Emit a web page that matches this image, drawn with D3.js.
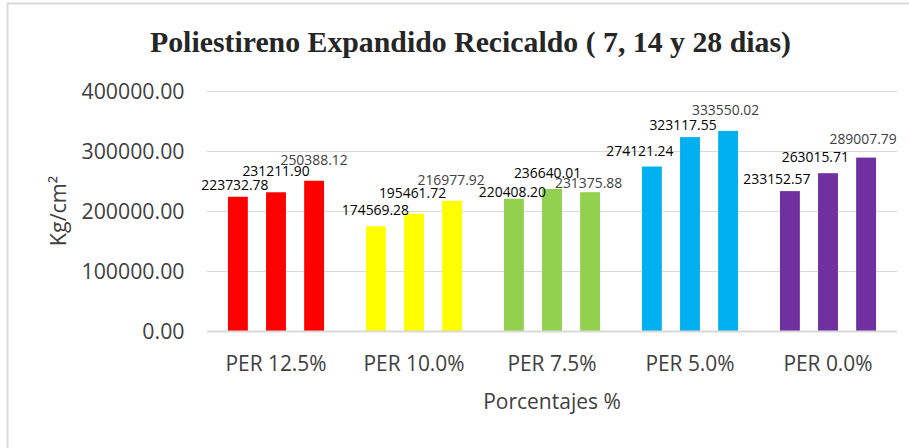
<!DOCTYPE html>
<html>
<head>
<meta charset="utf-8">
<script src="https://cdn.jsdelivr.net/npm/d3@7"></script>
<style>
  html, body { margin: 0; padding: 0; background: #fff; }
  svg { display: block; }
</style>
</head>
<body>
<div id="chart"></div>
<script>
// Compressive strength (Kg/cm²) of recycled expanded polystyrene mixes at 7, 14 and 28 days
const categories = ["PER 12.5%", "PER 10.0%", "PER 7.5%", "PER 5.0%", "PER 0.0%"];
const ages = ["7 dias", "14 dias", "28 dias"];
const values = [
  [223732.78, 231211.90, 250388.12],
  [174569.28, 195461.72, 216977.92],
  [220408.20, 236640.01, 231375.88],
  [274121.24, 323117.55, 333550.02],
  [233152.57, 263015.71, 289007.79]
];
const yTicks = [0, 100000, 200000, 300000, 400000];
const groupColors = ["#FF0000", "#FFFF00", "#92D050", "#00B0F0", "#7030A0"];

// Hand-placed data label nudges (px) relative to each bar's top centre
const labelDx = [
  [-3, 0, 0],
  [-0.5, -1.5, -1],
  [-1.5, -4.5, -1.5],
  [-12, -7, -2.5],
  [-13, -12.7, -3]
];
const labelDy = [
  [-6.8, -16, -16],
  [-11, -16, -16],
  [-2, -11.3, -4],
  [-11, -7, -15.4],
  [-7, -11.5, -14]
];

const W = 909, H = 448;
const plot = { left: 207, right: 897, top: 91, bottom: 331 };

const svg = d3.select("#chart").append("svg")
  .attr("width", W).attr("height", H);

svg.append("rect").attr("x", 0).attr("y", 0).attr("width", W).attr("height", H).attr("fill", "#fff");

// chart frame
svg.append("rect")
  .attr("x", 7.5).attr("y", 3.5)
  .attr("width", W + 10).attr("height", H + 10)
  .attr("fill", "none").attr("stroke", "#d9d9d9").attr("stroke-width", 2);

const x0 = d3.scaleBand().domain(categories).range([plot.left, plot.right]).padding(0);
const x1 = d3.scaleBand().domain(d3.range(ages.length))
  .range([0, x0.bandwidth()]).paddingInner(0.478).paddingOuter(0.55);
const y = d3.scaleLinear().domain([0, 400000]).range([plot.bottom, plot.top]);

// gridlines
svg.append("g").selectAll("line").data(yTicks.filter(d => d > 0)).join("line")
  .attr("x1", plot.left).attr("x2", plot.right)
  .attr("y1", d => Math.round(y(d)) + 0.5).attr("y2", d => Math.round(y(d)) + 0.5)
  .attr("stroke", "#d9d9d9").attr("stroke-width", 1.2);

// y axis labels
const yAxis = d3.axisLeft(y).tickValues(yTicks).tickFormat(d3.format(".2f")).tickSize(0).tickPadding(22.5);
const gy = svg.append("g").attr("transform", `translate(${plot.left},0)`).call(yAxis);
gy.select(".domain").remove();
gy.selectAll("text")
  .attr("font-family", "'Open Sans', sans-serif").attr("font-size", "21.3px")
  .attr("fill", "#404040").attr("dy", "0.36em");

// bars
const groups = svg.append("g").selectAll("g").data(values).join("g")
  .attr("transform", (d, i) => `translate(${x0(categories[i])},0)`);

groups.selectAll("rect").data((d, i) => d.map((v, j) => ({ v, j, i }))).join("rect")
  .attr("x", d => x1(d.j))
  .attr("y", d => y(d.v))
  .attr("width", x1.bandwidth())
  .attr("height", d => y(0) - y(d.v))
  .attr("fill", d => groupColors[d.i]);

// x axis baseline
svg.append("line")
  .attr("x1", plot.left).attr("x2", plot.right)
  .attr("y1", plot.bottom + 0.5).attr("y2", plot.bottom + 0.5)
  .attr("stroke", "#d9d9d9").attr("stroke-width", 2);

// data labels
groups.selectAll("text").data((d, i) => d.map((v, j) => ({ v, j, i }))).join("text")
  .attr("x", d => x1(d.j) + x1.bandwidth() / 2 + labelDx[d.i][d.j])
  .attr("y", d => y(d.v) + labelDy[d.i][d.j])
  .attr("text-anchor", "middle")
  .attr("font-family", "'Open Sans', sans-serif").attr("font-size", "13.9px")
  .attr("fill", d => d.j === 2 ? "#404040" : "#000")
  .text(d => d3.format(".2f")(d.v));

// x axis category labels
const xAxis = d3.axisBottom(x0).tickSize(0).tickPadding(0);
const gx = svg.append("g").attr("transform", `translate(0,${plot.bottom})`).call(xAxis);
gx.select(".domain").remove();
gx.selectAll("text")
  .attr("font-family", "'Open Sans', sans-serif").attr("font-size", "20.9px")
  .attr("fill", "#404040").attr("dy", null).attr("y", 40);

// axis titles
svg.append("text")
  .attr("x", (plot.left + plot.right) / 2).attr("y", 409)
  .attr("text-anchor", "middle")
  .attr("font-family", "'Open Sans', sans-serif").attr("font-size", "21px")
  .attr("fill", "#404040")
  .text("Porcentajes %");

svg.append("text")
  .attr("transform", `translate(66,${(plot.top + plot.bottom) / 2}) rotate(-90)`)
  .attr("text-anchor", "middle")
  .attr("font-family", "'Open Sans', sans-serif").attr("font-size", "21.5px")
  .attr("fill", "#404040")
  .text("Kg/cm²");

// chart title
svg.append("text")
  .attr("x", 470.5).attr("y", 52)
  .attr("text-anchor", "middle")
  .attr("font-family", "'Liberation Serif', 'Times New Roman', serif")
  .attr("font-weight", "bold").attr("font-size", "29.8px")
  .attr("fill", "#262626")
  .text("Poliestireno Expandido Recicaldo ( 7, 14 y 28 dias)");
</script>
</body>
</html>
